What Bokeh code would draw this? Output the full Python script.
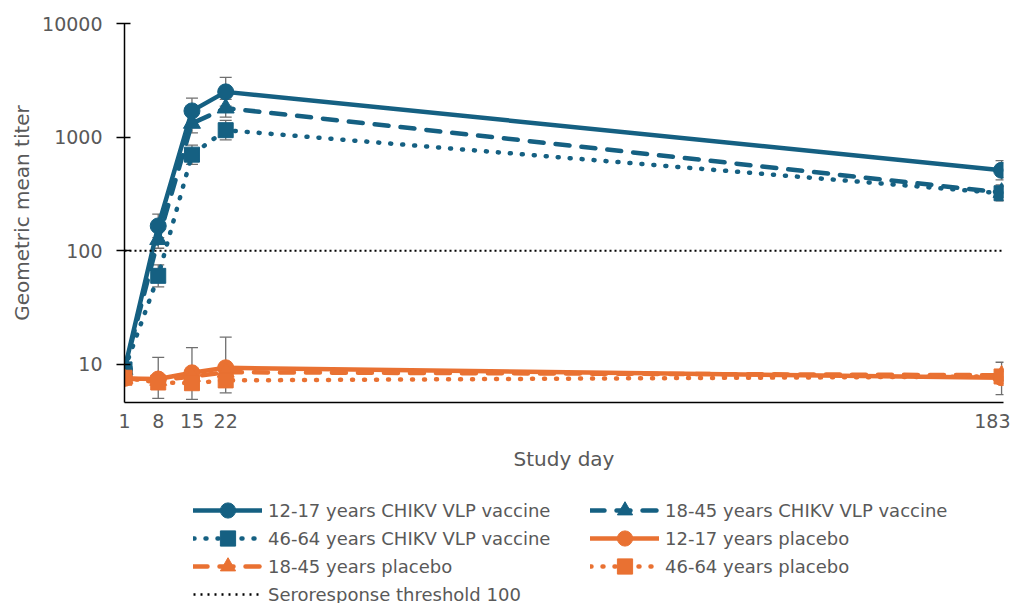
from bokeh.plotting import figure
from bokeh.layouts import column
from bokeh.models import (Range1d, FixedTicker, Whisker, ColumnDataSource,
                          Legend, LegendItem, TeeHead)
from bokeh.embed import file_html
from bokeh.resources import INLINE

# ---------------- data ----------------
days = [1, 8, 15, 22, 183]
x_ticks = [1, 8, 15, 22, 183]
y_ticks = [10, 100, 1000, 10000]
y_tick_labels = ["10", "100", "1000", "10000"]

vac_12_17 = [9.0, 165, 1700, 2500, 510]
vac_12_17_hi = [10.0, 210, 2200, 3350, 620]
vac_12_17_lo = [8.0, 130, 1320, 1870, 420]

vac_18_45 = [9.0, 125, 1320, 1800, 325]
vac_18_45_hi = [10.0, 150, 1600, 2150, 380]
vac_18_45_lo = [8.0, 105, 1090, 1500, 278]

vac_46_64 = [9.0, 60, 700, 1150, 320]
vac_46_64_hi = [10.0, 75, 850, 1400, 370]
vac_46_64_lo = [8.0, 48, 575, 945, 275]

pla_12_17 = [7.5, 7.4, 8.4, 9.3, 7.6]
pla_12_17_hi = [8.5, 11.5, 14.0, 17.3, 10.4]
pla_12_17_lo = [6.6, 5.0, 4.9, 5.6, 5.4]

pla_18_45 = [7.5, 7.2, 7.8, 8.5, 8.0]
pla_18_45_hi = [8.2, 8.0, 8.8, 9.6, 8.9]
pla_18_45_lo = [6.9, 6.5, 6.9, 7.5, 7.2]

pla_46_64 = [7.6, 6.9, 6.8, 7.2, 7.8]
pla_46_64_hi = [8.3, 7.6, 7.6, 8.0, 8.6]
pla_46_64_lo = [7.0, 6.3, 6.1, 6.5, 7.1]

threshold_days = [1, 183]
threshold_vals = [100, 100]

labels = ["12-17 years CHIKV VLP vaccine", "18-45 years CHIKV VLP vaccine",
          "46-64 years CHIKV VLP vaccine", "12-17 years placebo",
          "18-45 years placebo", "46-64 years placebo",
          "Seroresponse threshold 100"]

# ---------------- style ----------------
BLUE = "#156082"
ORANGE = "#E97132"
TEXT = "#595959"
WHISK = "#6f6f6f"
FONT = "DejaVu Sans"
DASH = "14 12"
DOT = "1 11"

p = figure(width=1010, height=480, y_axis_type="log",
           x_range=Range1d(1, 183.4), y_range=Range1d(4.6, 10000),
           output_backend="svg", toolbar_location=None,
           min_border_left=124, min_border_right=7, min_border_top=23,
           min_border_bottom=78)
p.outline_line_color = None
p.grid.visible = False
p.background_fill_color = "white"

# key figure underneath: same series, but its ranges keep the marks out of view
lg = figure(width=1010, height=123, x_range=Range1d(-3, -2), y_range=Range1d(-3, -2),
            output_backend="svg", toolbar_location=None,
            x_axis_location=None, y_axis_location=None,
            min_border_left=0, min_border_right=0, min_border_top=0,
            min_border_bottom=0)
lg.outline_line_color = None
lg.grid.visible = False

series = [
    (vac_12_17, vac_12_17_hi, vac_12_17_lo, BLUE, "solid", "circle", 16),
    (vac_18_45, vac_18_45_hi, vac_18_45_lo, BLUE, DASH, "triangle", 17),
    (vac_46_64, vac_46_64_hi, vac_46_64_lo, BLUE, DOT, "square", 15),
    (pla_12_17, pla_12_17_hi, pla_12_17_lo, ORANGE, "solid", "circle", 16),
    (pla_18_45, pla_18_45_hi, pla_18_45_lo, ORANGE, DASH, "triangle", 17),
    (pla_46_64, pla_46_64_hi, pla_46_64_lo, ORANGE, DOT, "square", 15),
]

items = []
for (vals, hi, lo, col, dash, marker, size), lab in zip(series, labels):
    src = ColumnDataSource(dict(x=days, y=vals, hi=hi, lo=lo))
    w = Whisker(base="x", upper="hi", lower="lo", source=src, dimension="height",
                line_color=WHISK, line_width=1.3,
                upper_head=TeeHead(size=12, line_color=WHISK, line_width=1.3),
                lower_head=TeeHead(size=12, line_color=WHISK, line_width=1.3))
    p.add_layout(w)
    p.line("x", "y", source=src, line_color=col, line_width=4.5,
           line_dash=dash, line_cap="round")
    p.scatter("x", "y", source=src, marker=marker, size=size,
              fill_color=col, line_color=col)
    lr = lg.line("x", "y", source=src, line_color=col, line_width=4.5,
                 line_dash=dash, line_cap="round")
    sr = lg.scatter("x", "y", source=src, marker=marker, size=size,
                    fill_color=col, line_color=col)
    items.append(LegendItem(label=lab, renderers=[lr, sr]))

p.line(threshold_days, threshold_vals, line_color="black", line_width=2,
       line_dash="2 3")
ltr = lg.line(threshold_days, threshold_vals, line_color="black", line_width=2.5,
              line_dash="2 5")
items.append(LegendItem(label=labels[6], renderers=[ltr]))

# ---------------- axes ----------------
p.yaxis.ticker = FixedTicker(ticks=y_ticks)
p.yaxis.major_label_overrides = {t: l for t, l in zip(y_ticks, y_tick_labels)}
p.yaxis.minor_tick_line_color = None
p.yaxis.major_tick_in = 6
p.yaxis.major_tick_out = 8
p.yaxis.axis_label = "Geometric mean titer"

p.xaxis.ticker = FixedTicker(ticks=x_ticks)
p.xaxis.minor_tick_line_color = None
p.xaxis.major_tick_out = 0
p.xaxis.major_tick_in = 0
p.xaxis.axis_label = "Study day"

for ax in (p.xaxis, p.yaxis):
    ax.axis_line_color = "black"
    ax.axis_line_width = 1.5
    ax.major_tick_line_width = 1.5
    ax.major_label_text_font = FONT
    ax.major_label_text_font_size = "19px"
    ax.major_label_text_color = TEXT
    ax.axis_label_text_font = FONT
    ax.axis_label_text_font_size = "20px"
    ax.axis_label_text_font_style = "normal"
    ax.axis_label_text_color = TEXT
p.yaxis.major_tick_line_color = "black"
p.xaxis.major_tick_line_color = None

p.yaxis.major_label_standoff = 14
p.yaxis.axis_label_standoff = 5
p.xaxis.major_label_standoff = 11
p.xaxis.axis_label_standoff = 16

# ---------------- legend: two columns, one single-entry key per row ----------------
# (column x offset, bottom offset) in screen px of the key figure's frame
slots = [(69, 74), (466, 74),
         (69, 46), (466, 46),
         (69, 18), (466, 18),
         (69, -10)]

for it, loc in zip(items, slots):
    lg.add_layout(Legend(items=[it], location=loc, orientation="vertical",
                         margin=0, padding=0, spacing=0,
                         glyph_width=69, glyph_height=38, label_height=20,
                         label_standoff=6,
                         label_text_font=FONT, label_text_font_size="18px",
                         label_text_color=TEXT,
                         border_line_alpha=0, background_fill_alpha=0))

layout = column(p, lg, spacing=0)
open("out.html", "w").write(file_html(layout, INLINE))
